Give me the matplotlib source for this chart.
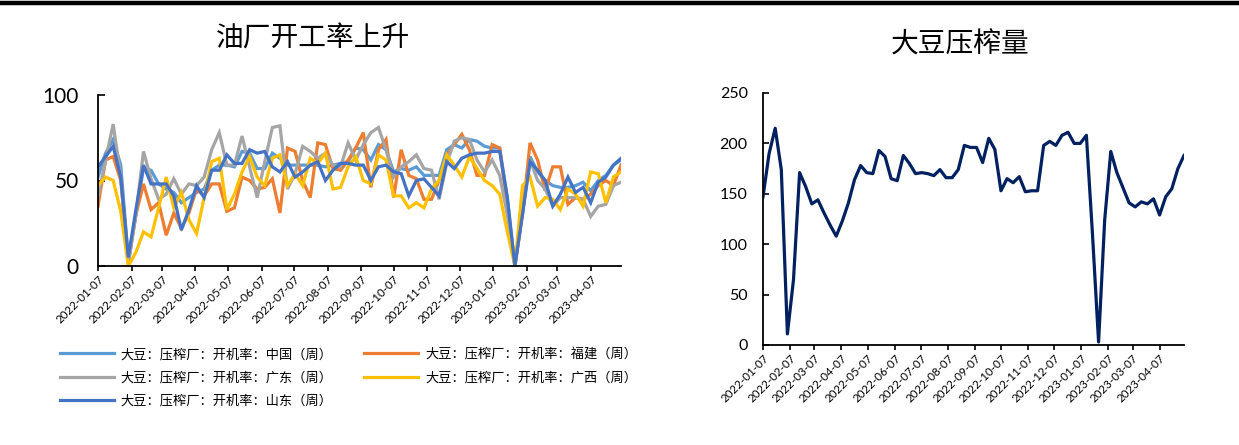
import numpy as np
import pandas as pd
import matplotlib
matplotlib.use("Agg")
import matplotlib.pyplot as plt
import matplotlib.dates as mdates
from matplotlib.lines import Line2D

plt.rcParams['font.family'] = ['Lato', 'Noto Sans CJK SC', 'DejaVu Sans']

# weekly dates
dates = pd.date_range('2022-01-07', periods=70, freq='7D')

# 开机率 (%)
china = [52, 66, 74, 59, 4, 30, 57, 56, 48, 45, 43, 37, 40, 43, 45, 56, 59, 59, 58, 67,
         66, 57, 57, 66, 63, 59, 59, 59, 59, 59, 58, 59, 60, 61, 69, 68, 62, 71, 68, 55,
         57, 56, 58, 53, 53, 53, 68, 71, 69, 74, 73, 70, 69, 69, 40, 0, 33, 64, 55, 50,
         47, 46, 46, 47, 49, 44, 50, 53, 59, 62]
fujian = [35, 62, 64, 50, 2, 30, 48, 33, 37, 18, 31, 22, 31, 45, 41, 48, 48, 32, 34, 52,
          50, 45, 46, 51, 31, 69, 67, 50, 40, 72, 71, 57, 56, 62, 69, 78, 46, 68, 74, 40,
          68, 53, 51, 39, 39, 50, 65, 71, 77, 68, 53, 53, 71, 69, 35, 0, 30, 72, 62, 44,
          58, 58, 36, 40, 39, 42, 47, 50, 47, 59]
guangdong = [40, 62, 83, 52, 1, 30, 67, 51, 39, 42, 51, 42, 48, 47, 52, 68, 78, 59, 59, 76,
             58, 40, 61, 81, 82, 45, 54, 70, 67, 63, 66, 59, 58, 72, 62, 71, 78, 81, 68, 52,
             58, 61, 65, 57, 56, 39, 60, 73, 75, 74, 62, 55, 62, 53, 30, 0, 31, 62, 50, 45,
             35, 40, 40, 40, 39, 29, 35, 36, 47, 49]
guangxi = [47, 52, 50, 32, 0, 8, 20, 17, 34, 52, 34, 43, 27, 19, 40, 61, 63, 33, 42, 55,
           64, 52, 47, 63, 65, 47, 54, 47, 63, 60, 66, 45, 46, 58, 64, 50, 48, 65, 62, 41,
           41, 34, 37, 34, 45, 50, 65, 59, 52, 64, 57, 50, 47, 42, 20, 0, 47, 52, 35, 40,
           39, 33, 45, 42, 35, 55, 54, 37, 52, 55]
shandong = [58, 64, 70, 52, 5, 33, 59, 48, 48, 48, 41, 21, 33, 47, 40, 56, 56, 65, 60, 60,
            68, 66, 67, 58, 55, 61, 52, 55, 59, 61, 50, 56, 60, 60, 59, 59, 50, 58, 59, 55,
            54, 41, 50, 51, 46, 41, 61, 57, 63, 65, 66, 66, 67, 67, 40, 0, 30, 61, 56, 50,
            35, 42, 52, 43, 46, 37, 49, 52, 59, 63]

# 大豆压榨量
crush = [147, 190, 215, 174, 11, 65, 171, 157, 140, 144, 131, 119, 108, 123, 141, 164, 178,
         171, 170, 193, 187, 165, 163, 188, 180, 170, 171, 170, 168, 174, 166, 166, 174, 198,
         196, 196, 181, 205, 194, 153, 165, 161, 167, 152, 153, 153, 198, 202, 198, 208, 211,
         200, 200, 208, 110, 3, 124, 192, 171, 156, 141, 137, 142, 140, 145, 129, 147, 155,
         175, 188]

labels = ['大豆：压榨厂：开机率：中国（周）', '大豆：压榨厂：开机率：福建（周）',
          '大豆：压榨厂：开机率：广东（周）', '大豆：压榨厂：开机率：广西（周）',
          '大豆：压榨厂：开机率：山东（周）']
colors = ['#5B9BD5', '#ED7D31', '#A5A5A5', '#FFC000', '#4472C4']

tick_dates = [pd.Timestamp(2022, 1, 7) + pd.DateOffset(months=m) for m in range(16)]

fig = plt.figure(figsize=(12.39, 4.45), dpi=100)
fig.add_artist(Line2D([0, 1], [1 - 2.5 / 445, 1 - 2.5 / 445], color='black', lw=3.2))


def style_axes(ax, ylabel_size, ypad, ylen):
    for s in ['top', 'right']:
        ax.spines[s].set_visible(False)
    for s in ['left', 'bottom']:
        ax.spines[s].set_linewidth(1.3)
    ax.set_xlim(dates[0], dates[-1])
    ax.set_xticks(tick_dates)
    ax.xaxis.set_major_formatter(mdates.DateFormatter('%Y-%m-%d'))
    ax.tick_params(axis='x', direction='out', length=3.5, width=1.2, labelsize=8.3, pad=2)
    ax.tick_params(axis='y', direction='in', length=ylen, width=1.2, labelsize=ylabel_size, pad=ypad)
    for lab in ax.get_xticklabels():
        lab.set_rotation(45)
        lab.set_ha('right')
        lab.set_va('top')
        lab.set_rotation_mode('anchor')


# left chart
ax1 = fig.add_axes([98 / 1239, 1 - 266 / 445, 523 / 1239, 171 / 445])
series = [china, fujian, guangdong, guangxi, shandong]
handles = []
for vals, c, lab in zip(series, colors, labels):
    h, = ax1.plot(dates, vals, color=c, lw=2.3, label=lab, solid_joinstyle='miter')
    handles.append(h)
ax1.set_ylim(0, 100)
ax1.set_yticks([0, 50, 100])
style_axes(ax1, 15, 14, 5)
fig.text(313 / 1239, 1 - 38 / 445, '油厂开工率上升', ha='center', va='center',
         fontsize=20, fontweight='light')

order = [0, 2, 4, 1, 3]
fig.legend([handles[i] for i in order], [labels[i] for i in order], ncol=2,
           loc='upper left', bbox_to_anchor=(60 / 1239, 1 - 347 / 445), frameon=False,
           fontsize=9.5, handlelength=4.1, handletextpad=0.5, columnspacing=2.4,
           labelspacing=0.8, borderpad=0, borderaxespad=0)

# right chart
ax2 = fig.add_axes([763 / 1239, 1 - 345 / 445, 421 / 1239, 252 / 445])
ax2.plot(dates, crush, color='#002060', lw=2.3)
ax2.set_ylim(0, 250)
ax2.set_yticks(range(0, 251, 50))
style_axes(ax2, 11.5, 11, 4)
fig.text(960 / 1239, 1 - 44 / 445, '大豆压榨量', ha='center', va='center',
         fontsize=20, fontweight='light')

fig.savefig('out.png', dpi=100)
